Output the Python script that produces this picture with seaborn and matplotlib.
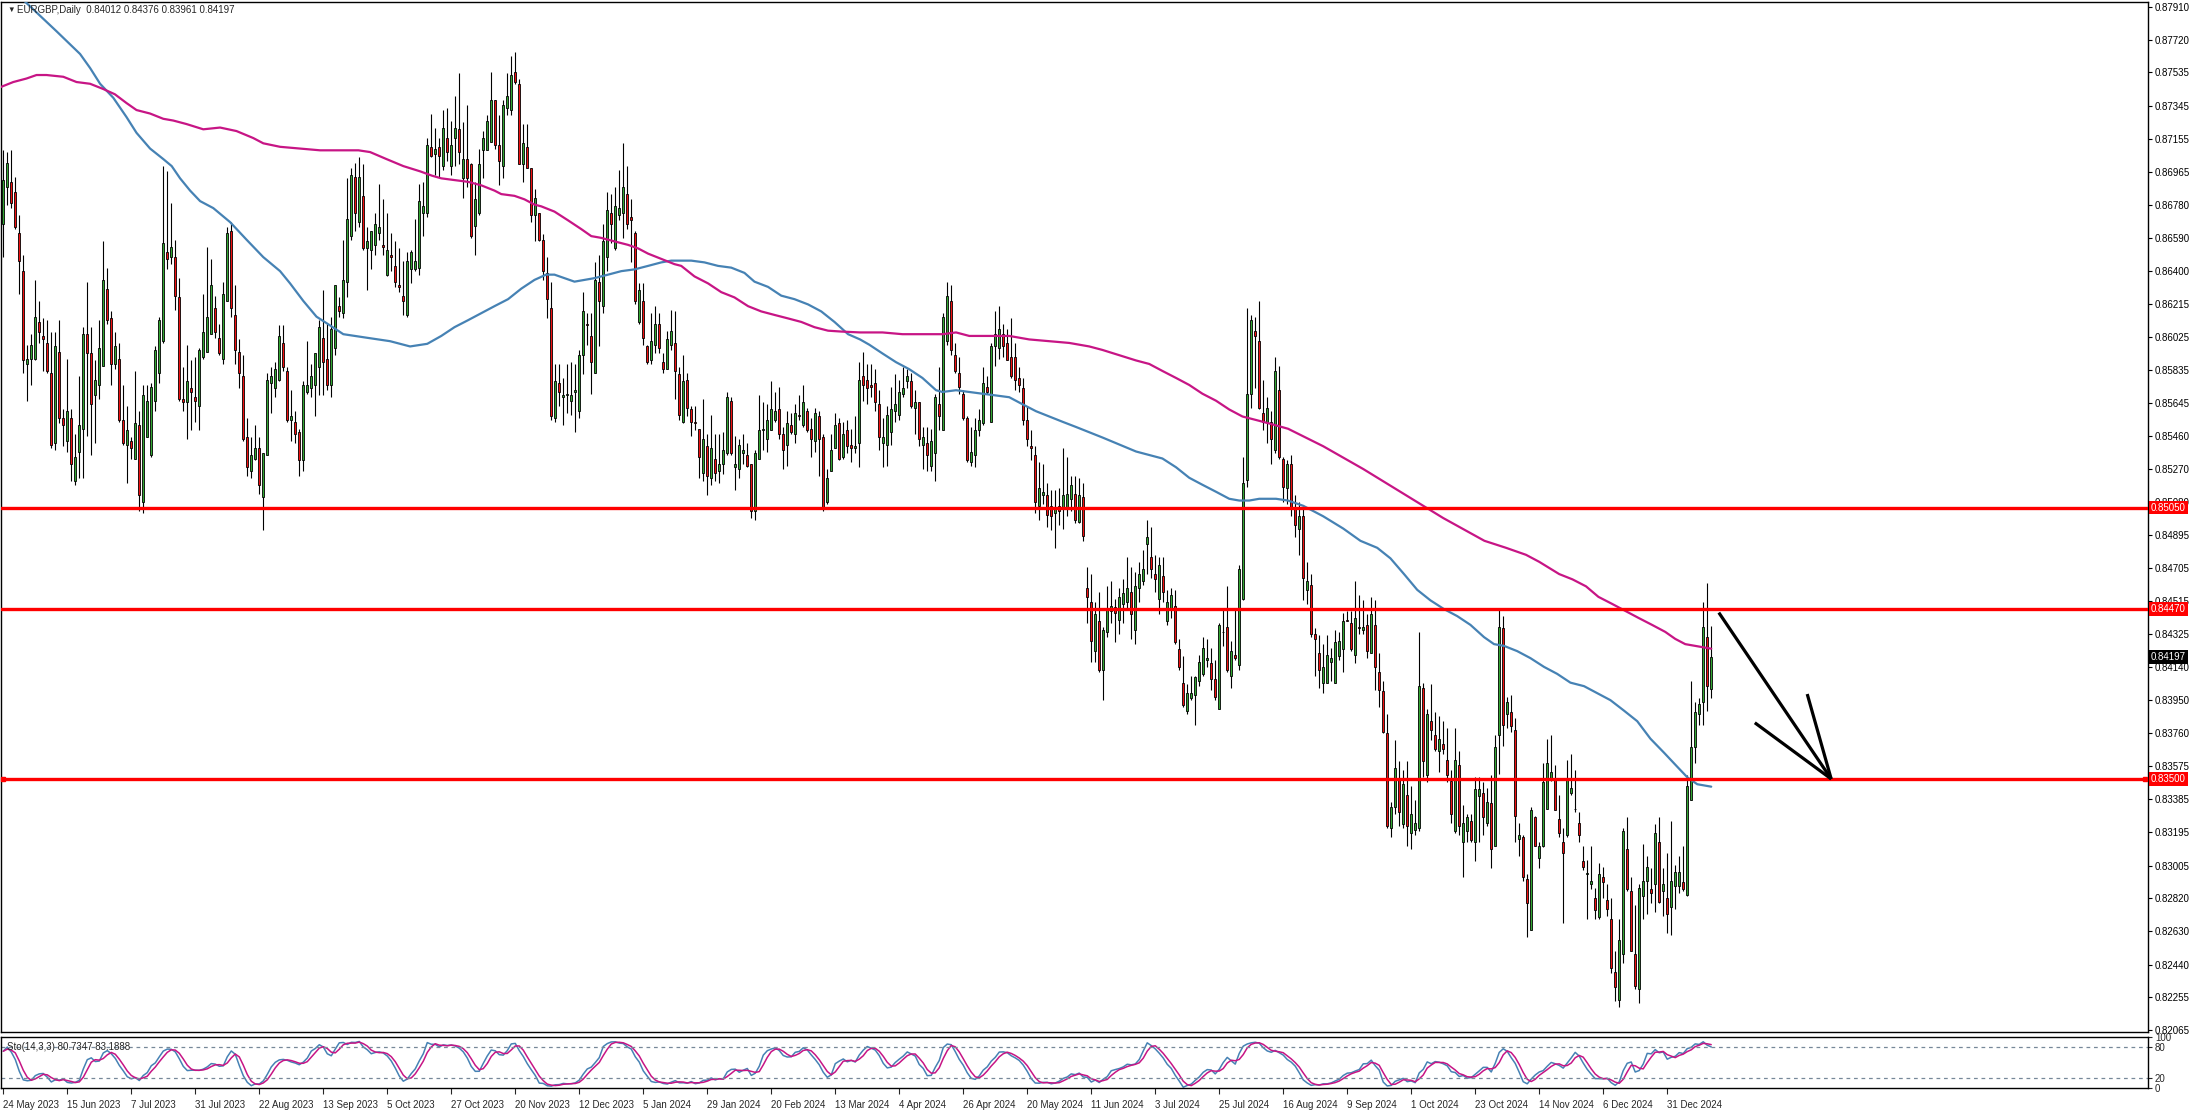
import numpy as np
import pandas as pd
import matplotlib
matplotlib.use("Agg")
import matplotlib.pyplot as plt
import matplotlib.transforms as mtrans
import seaborn as sns

# --- EURGBP daily candles, prices in pips (price * 10000) ---
opens = [8667, 8688, 8691, 8685, 8662, 8640, 8587, 8590, 8590, 8611, 8603, 8599, 8582, 8542, 8594, 8556, 8543, 8556, 8520, 8537,
         8550, 8604, 8593, 8569, 8575, 8586, 8630, 8613, 8587, 8590, 8555, 8541, 8543, 8533, 8552, 8508, 8545, 8535, 8566, 8582,
         8600, 8651, 8648, 8648, 8625, 8567, 8565, 8573, 8568, 8563, 8591, 8594, 8604, 8619, 8602, 8590, 8623, 8663, 8615, 8594,
         8580, 8545, 8526, 8533, 8539, 8511, 8535, 8576, 8573, 8578, 8599, 8583, 8555, 8554, 8548, 8532, 8571, 8573, 8575, 8585,
         8602, 8590, 8575, 8596, 8620, 8616, 8634, 8660, 8694, 8668, 8683, 8653, 8652, 8655, 8662, 8655, 8638, 8649, 8643, 8632,
         8626, 8615, 8641, 8641, 8642, 8673, 8673, 8711, 8707, 8711, 8700, 8716, 8700, 8716, 8721, 8693, 8704, 8701, 8666, 8673,
         8709, 8709, 8714, 8738, 8712, 8700, 8733, 8732, 8754, 8747, 8701, 8711, 8699, 8672, 8673, 8658, 8639, 8619, 8556, 8576,
         8568, 8569, 8566, 8571, 8560, 8592, 8610, 8603, 8582, 8634, 8620, 8648, 8673, 8653, 8672, 8673, 8684, 8671, 8662, 8611,
         8623, 8597, 8589, 8598, 8610, 8588, 8584, 8598, 8599, 8581, 8554, 8578, 8561, 8554, 8550, 8525, 8540, 8522, 8533, 8526,
         8530, 8536, 8566, 8528, 8527, 8536, 8535, 8530, 8503, 8533, 8549, 8544, 8549, 8555, 8561, 8547, 8541, 8552, 8547, 8558,
         8552, 8560, 8550, 8543, 8557, 8545, 8508, 8526, 8539, 8553, 8534, 8549, 8541, 8539, 8542, 8580, 8578, 8575, 8576, 8564,
         8542, 8541, 8548, 8560, 8558, 8570, 8577, 8577, 8562, 8565, 8541, 8542, 8529, 8536, 8564, 8549, 8600, 8623, 8592, 8582,
         8570, 8556, 8531, 8535, 8549, 8553, 8574, 8554, 8597, 8596, 8604, 8599, 8591, 8591, 8579, 8573, 8555, 8540, 8535, 8506,
         8512, 8512, 8506, 8502, 8506, 8505, 8505, 8510, 8513, 8497, 8511, 8459, 8451, 8423, 8440, 8412, 8434, 8446, 8448, 8441,
         8450, 8451, 8457, 8435, 8459, 8463, 8484, 8477, 8467, 8453, 8466, 8440, 8447, 8449, 8424, 8405, 8389, 8396, 8398, 8406,
         8410, 8418, 8416, 8407, 8390, 8434, 8437, 8409, 8421, 8415, 8453, 8521, 8570, 8606, 8600, 8559, 8554, 8554, 8538, 8572,
         8533, 8516, 8530, 8505, 8493, 8500, 8458, 8461, 8433, 8422, 8405, 8405, 8417, 8405, 8420, 8424, 8441, 8439, 8421, 8437,
         8435, 8438, 8422, 8438, 8411, 8400, 8376, 8322, 8334, 8350, 8324, 8341, 8319, 8321, 8322, 8402, 8352, 8383, 8375, 8366,
         8370, 8361, 8349, 8320, 8358, 8314, 8320, 8326, 8314, 8340, 8342, 8325, 8336, 8312, 8375, 8436, 8387, 8388, 8378, 8316,
         8317, 8293, 8264, 8328, 8305, 8312, 8333, 8350, 8350, 8327, 8314, 8318, 8342, 8333, 8325, 8303, 8296, 8290, 8282, 8271,
         8294, 8281, 8270, 8240, 8224, 8250, 8310, 8286, 8250, 8230, 8283, 8292, 8287, 8290, 8314, 8286, 8282, 8277, 8289, 8289,
         8291, 8284, 8338, 8368, 8387, 8394, 8431, 8401.2]
highs = [8709, 8708, 8709, 8694, 8672, 8649, 8598, 8604, 8635, 8623, 8613, 8612, 8605, 8605, 8612, 8561, 8590, 8561, 8547, 8580,
         8608, 8634, 8608, 8589, 8612, 8657, 8642, 8617, 8605, 8599, 8575, 8563, 8545, 8583, 8560, 8575, 8575, 8576, 8597, 8614,
         8700, 8697, 8679, 8658, 8636, 8585, 8598, 8589, 8591, 8596, 8627, 8654, 8647, 8626, 8610, 8634, 8665, 8668, 8632, 8601,
         8592, 8556, 8545, 8552, 8545, 8536, 8582, 8585, 8588, 8609, 8609, 8585, 8572, 8560, 8550, 8577, 8600, 8587, 8593, 8612,
         8629, 8610, 8614, 8632, 8625, 8658, 8693, 8699, 8702, 8705, 8701, 8665, 8663, 8673, 8690, 8681, 8673, 8662, 8657, 8653,
         8646, 8651, 8652, 8670, 8690, 8691, 8716, 8730, 8722, 8716, 8732, 8733, 8726, 8740, 8753, 8725, 8735, 8702, 8691, 8710,
         8720, 8729, 8754, 8738, 8729, 8738, 8753, 8763, 8765, 8750, 8724, 8724, 8699, 8687, 8673, 8661, 8648, 8634, 8587, 8587,
         8579, 8587, 8588, 8587, 8595, 8628, 8616, 8616, 8645, 8649, 8667, 8685, 8684, 8688, 8698, 8713, 8700, 8681, 8663, 8633,
         8633, 8598, 8616, 8620, 8616, 8593, 8606, 8618, 8617, 8585, 8592, 8582, 8563, 8563, 8550, 8567, 8547, 8558, 8547, 8547,
         8548, 8571, 8568, 8546, 8544, 8547, 8542, 8530, 8538, 8569, 8565, 8564, 8577, 8571, 8574, 8551, 8560, 8559, 8564, 8569,
         8575, 8562, 8556, 8562, 8560, 8547, 8527, 8547, 8559, 8556, 8554, 8555, 8550, 8557, 8588, 8594, 8587, 8587, 8584, 8572,
         8556, 8563, 8574, 8581, 8578, 8585, 8584, 8582, 8572, 8565, 8551, 8551, 8550, 8570, 8585, 8616, 8634, 8632, 8599, 8591,
         8572, 8557, 8551, 8556, 8561, 8585, 8580, 8599, 8617, 8620, 8610, 8607, 8613, 8599, 8585, 8579, 8563, 8549, 8540, 8531,
         8530, 8519, 8515, 8515, 8516, 8539, 8534, 8523, 8523, 8522, 8519, 8471, 8467, 8451, 8457, 8437, 8460, 8463, 8453, 8459,
         8464, 8477, 8471, 8468, 8474, 8481, 8498, 8494, 8478, 8477, 8477, 8458, 8459, 8458, 8430, 8420, 8404, 8409, 8409, 8421,
         8431, 8430, 8425, 8418, 8439, 8447, 8460, 8429, 8447, 8472, 8534, 8619, 8615, 8614, 8623, 8578, 8568, 8560, 8591, 8586,
         8534, 8532, 8535, 8512, 8508, 8505, 8474, 8467, 8436, 8432, 8427, 8432, 8425, 8435, 8434, 8445, 8446, 8446, 8463, 8455,
         8452, 8444, 8454, 8452, 8422, 8406, 8387, 8337, 8372, 8360, 8355, 8360, 8346, 8338, 8434, 8405, 8390, 8404, 8388, 8386,
         8383, 8379, 8355, 8379, 8366, 8335, 8330, 8330, 8351, 8351, 8348, 8345, 8352, 8375, 8447, 8443, 8397, 8398, 8385, 8325,
         8318, 8296, 8334, 8329, 8314, 8359, 8373, 8375, 8358, 8341, 8322, 8361, 8364, 8355, 8331, 8312, 8304, 8312, 8288, 8302,
         8300, 8290, 8282, 8252, 8270, 8322, 8328, 8294, 8278, 8290, 8313, 8306, 8299, 8324, 8328, 8299, 8308, 8326, 8301, 8306,
         8312, 8352, 8406, 8394, 8396, 8451, 8462, 8437.6]
lows = [8648, 8678, 8676, 8664, 8627, 8582, 8566, 8575, 8589, 8599, 8583, 8582, 8539, 8538, 8553, 8540, 8537, 8520, 8518, 8522,
        8522, 8546, 8535, 8542, 8567, 8586, 8610, 8575, 8584, 8554, 8541, 8519, 8533, 8533, 8503, 8502, 8545, 8534, 8560, 8576,
        8599, 8641, 8644, 8618, 8566, 8560, 8544, 8549, 8554, 8549, 8590, 8594, 8604, 8602, 8592, 8587, 8623, 8614, 8587, 8573,
        8543, 8523, 8522, 8532, 8513, 8492, 8535, 8559, 8568, 8577, 8583, 8554, 8543, 8542, 8523, 8526, 8570, 8568, 8557, 8569,
        8569, 8572, 8568, 8592, 8614, 8613, 8625, 8658, 8663, 8665, 8652, 8629, 8641, 8649, 8658, 8649, 8637, 8640, 8631, 8628,
        8615, 8614, 8633, 8640, 8638, 8660, 8671, 8705, 8695, 8694, 8698, 8703, 8695, 8700, 8701, 8682, 8688, 8659, 8649, 8672,
        8693, 8709, 8714, 8710, 8689, 8693, 8729, 8729, 8747, 8701, 8691, 8699, 8668, 8657, 8657, 8635, 8613, 8555, 8554, 8563,
        8552, 8559, 8558, 8548, 8556, 8581, 8598, 8570, 8582, 8597, 8616, 8640, 8656, 8652, 8669, 8659, 8664, 8645, 8621, 8610,
        8598, 8587, 8587, 8593, 8593, 8582, 8584, 8595, 8567, 8555, 8553, 8557, 8546, 8549, 8522, 8520, 8512, 8518, 8520, 8519,
        8524, 8535, 8535, 8515, 8522, 8530, 8528, 8499, 8498, 8533, 8538, 8537, 8549, 8554, 8544, 8527, 8529, 8547, 8542, 8555,
        8551, 8548, 8534, 8537, 8523, 8503, 8507, 8526, 8539, 8532, 8533, 8536, 8531, 8536, 8528, 8566, 8564, 8568, 8560, 8538,
        8528, 8529, 8541, 8554, 8555, 8568, 8573, 8562, 8547, 8540, 8527, 8526, 8526, 8520, 8549, 8549, 8598, 8592, 8582, 8570,
        8555, 8531, 8529, 8528, 8546, 8552, 8570, 8554, 8586, 8590, 8591, 8589, 8579, 8572, 8571, 8552, 8540, 8532, 8502, 8498,
        8507, 8494, 8492, 8482, 8495, 8493, 8500, 8503, 8496, 8496, 8486, 8439, 8417, 8417, 8411, 8395, 8431, 8439, 8428, 8433,
        8439, 8447, 8430, 8427, 8451, 8461, 8467, 8465, 8457, 8444, 8451, 8438, 8442, 8427, 8412, 8391, 8387, 8395, 8381, 8403,
        8409, 8414, 8401, 8395, 8390, 8426, 8411, 8402, 8418, 8412, 8452, 8517, 8562, 8573, 8561, 8549, 8542, 8530, 8536, 8533,
        8508, 8507, 8500, 8488, 8478, 8452, 8450, 8431, 8409, 8402, 8399, 8405, 8406, 8405, 8418, 8411, 8440, 8423, 8416, 8433,
        8433, 8419, 8422, 8401, 8391, 8376, 8322, 8317, 8330, 8323, 8322, 8312, 8310, 8318, 8320, 8351, 8348, 8372, 8366, 8354,
        8364, 8348, 8325, 8319, 8318, 8294, 8314, 8314, 8303, 8314, 8318, 8323, 8299, 8312, 8353, 8369, 8379, 8377, 8314, 8306,
        8292, 8260, 8264, 8312, 8299, 8311, 8333, 8349, 8332, 8317, 8268, 8317, 8341, 8331, 8314, 8298, 8270, 8287, 8270, 8270,
        8282, 8272, 8239, 8223, 8220, 8245, 8286, 8252, 8230, 8222, 8270, 8273, 8279, 8274, 8279, 8272, 8262, 8261, 8276, 8285,
        8286, 8283, 8338, 8359, 8381, 8381, 8389, 8396.1]
closes = [8692, 8702, 8679, 8665, 8646, 8589, 8590, 8598, 8614, 8605, 8601, 8583, 8541, 8597, 8556, 8552, 8560, 8530, 8534, 8552,
          8604, 8593, 8564, 8578, 8596, 8635, 8612, 8587, 8597, 8555, 8542, 8549, 8539, 8553, 8512, 8569, 8566, 8574, 8595, 8612,
          8656, 8647, 8654, 8626, 8567, 8565, 8577, 8571, 8566, 8595, 8605, 8614, 8632, 8605, 8593, 8627, 8662, 8619, 8595, 8582,
          8544, 8528, 8535, 8539, 8518, 8536, 8578, 8580, 8584, 8603, 8585, 8555, 8557, 8547, 8532, 8575, 8575, 8580, 8593, 8608,
          8588, 8575, 8607, 8632, 8617, 8635, 8670, 8695, 8673, 8694, 8653, 8657, 8663, 8667, 8665, 8654, 8652, 8648, 8634, 8631,
          8623, 8646, 8651, 8646, 8680, 8677, 8712, 8706, 8710, 8706, 8722, 8708, 8712, 8722, 8708, 8704, 8693, 8660, 8681, 8701,
          8716, 8726, 8738, 8712, 8703, 8735, 8740, 8752, 8748, 8701, 8713, 8699, 8672, 8682, 8658, 8640, 8624, 8557, 8577, 8571,
          8569, 8570, 8569, 8572, 8592, 8617, 8609, 8588, 8635, 8623, 8657, 8675, 8667, 8677, 8676, 8688, 8667, 8669, 8623, 8629,
          8602, 8588, 8600, 8610, 8596, 8584, 8601, 8606, 8583, 8558, 8577, 8562, 8554, 8553, 8534, 8544, 8523, 8539, 8525, 8530,
          8538, 8568, 8536, 8530, 8541, 8538, 8529, 8503, 8536, 8549, 8550, 8555, 8561, 8560, 8547, 8538, 8553, 8548, 8559, 8557,
          8565, 8549, 8544, 8559, 8544, 8505, 8522, 8538, 8552, 8533, 8547, 8540, 8539, 8540, 8578, 8575, 8573, 8574, 8565, 8545,
          8545, 8558, 8561, 8564, 8571, 8573, 8580, 8563, 8565, 8544, 8545, 8535, 8543, 8568, 8557, 8614, 8626, 8595, 8583, 8574,
          8556, 8532, 8537, 8549, 8555, 8576, 8571, 8597, 8604, 8607, 8597, 8589, 8580, 8578, 8575, 8555, 8544, 8539, 8508, 8516,
          8514, 8501, 8500, 8505, 8503, 8512, 8513, 8518, 8498, 8512, 8489, 8454, 8429, 8444, 8412, 8435, 8447, 8449, 8445, 8454,
          8456, 8459, 8444, 8460, 8467, 8470, 8488, 8470, 8464, 8472, 8457, 8451, 8455, 8428, 8414, 8392, 8399, 8399, 8408, 8417,
          8425, 8419, 8407, 8397, 8438, 8434, 8412, 8423, 8419, 8470, 8519, 8570, 8612, 8603, 8562, 8554, 8562, 8544, 8583, 8534,
          8517, 8530, 8505, 8495, 8500, 8465, 8463, 8433, 8430, 8412, 8414, 8421, 8419, 8428, 8429, 8440, 8440, 8424, 8442, 8436,
          8437, 8423, 8444, 8414, 8401, 8377, 8323, 8334, 8356, 8331, 8347, 8323, 8330, 8325, 8403, 8360, 8387, 8378, 8367, 8373,
          8367, 8352, 8330, 8361, 8323, 8325, 8328, 8315, 8344, 8344, 8328, 8337, 8310, 8368, 8437, 8381, 8394, 8380, 8329, 8318,
          8294, 8279, 8332, 8312, 8312, 8348, 8359, 8354, 8332, 8319, 8308, 8350, 8345, 8333, 8318, 8300, 8296, 8292, 8275, 8296,
          8291, 8276, 8242, 8231, 8258, 8320, 8287, 8252, 8232, 8288, 8292, 8300, 8285, 8319, 8280, 8290, 8273, 8292, 8297, 8297,
          8287, 8346, 8368, 8388, 8393, 8437, 8403, 8419.7]

# moving averages, sampled along the drawn lines: bar index and value in pips
blue_ma_idx = [4, 13.3, 19.2, 21.7, 24.2, 27.5, 30.8, 33.3, 36.7, 40, 42.1, 44.2, 46.7, 49.2, 52.5, 56.7, 60.8, 65, 69.2, 71.7,
               75, 78.3, 81.7, 85, 90.8, 96.7, 101.7, 106, 109.5, 112.8, 116.2, 119.5, 122.8, 126.2, 129.5, 132.8, 135.7, 137.8,
               140.3, 142.8, 145.3, 147.8, 151.2, 154.5, 157.8, 161.2, 164.5, 167, 172, 175.3, 178.7, 182, 185.3, 187.8, 191.2,
               194.5, 197.8, 201.2, 204.5, 207.8, 211.2, 214.2, 216.5, 219.8, 223.2, 226.5, 229.8, 233.2, 234.8, 238.2, 241.5,
               244.8, 248.2, 251.5, 254.8, 258.2, 261.5, 264.8, 268.2, 271.5, 274.8, 279, 283.2, 286.5, 289.8, 293.2, 296.5,
               299.8, 303.2, 306.5, 309, 311.5, 314, 318.2, 321.2, 325, 330, 335, 339.3, 343.5, 346.8, 350.2, 353.5, 356.8,
               360.2, 363.5, 366.8, 370.2, 372.7, 375.2, 378.5, 381.8, 385.2, 388.5, 391.8, 395.2, 398.5, 401.8, 405.2, 408.5,
               411.8, 415.2, 418.5, 421, 423.5, 427]
blue_ma_val = [8797, 8777, 8764, 8756, 8747, 8739, 8728, 8719, 8710, 8704, 8700, 8693, 8686, 8680, 8676, 8668, 8658, 8648, 8640, 8633,
               8623, 8614, 8609, 8604, 8602, 8600, 8597, 8598.5, 8603, 8608, 8612, 8616, 8620, 8624, 8630, 8635, 8638, 8638,
               8636, 8634, 8635, 8636, 8638, 8640, 8641, 8643, 8645, 8646, 8646, 8645, 8643, 8642, 8639, 8634, 8631,
               8626, 8624, 8621, 8617, 8611, 8604, 8601, 8598, 8593, 8588, 8584, 8579, 8572, 8571, 8572, 8571,
               8570, 8569, 8568, 8564, 8560, 8557, 8554, 8551, 8548, 8545, 8541, 8537, 8535, 8533, 8528, 8522,
               8518, 8514, 8510, 8509, 8509, 8510, 8510, 8509, 8506, 8500, 8493, 8486, 8482, 8476, 8467, 8458, 8452,
               8447, 8443, 8438, 8431, 8427, 8426, 8423, 8419, 8414, 8410, 8405, 8403, 8399, 8395, 8389, 8383,
               8373, 8365, 8357, 8351, 8347, 8345.6]
pink_ma_idx = [-0.8, 2.5, 5.8, 8.3, 10.8, 15, 18.3, 21.7, 25, 27.9, 30.8, 33.3, 36.7, 40, 42.5, 45.8, 50, 54.2, 58.3, 62.5,
               65, 69.2, 74.2, 79.2, 84.2, 88.8, 91.7, 95.8, 100, 104.2, 107.2, 109.5, 112.8, 116.2, 119.5, 122.8, 124.5,
               127.8, 130.3, 132.8, 134.5, 137.8, 141.2, 144.5, 147, 149.5, 152.8, 156.2, 158.7, 161.2, 164.5, 167.8, 169.5,
               172.8, 176.2, 179.5, 182.8, 186.2, 189.5, 192.8, 196.2, 199.5, 202.8, 206.2, 209.5, 214.2, 219.8, 224.8,
               229.8, 234.8, 238.2, 241.5, 246.5, 251.5, 256.5, 261.5, 266.5, 271.5, 274.8, 279, 283.2, 286.5, 289.8,
               293.2, 296.5, 299.8, 303.2, 306.5, 309.8, 313.2, 316.5, 321.2, 330, 340, 350, 360, 370.3, 375.7, 380.7,
               384, 389, 392.3, 395.7, 398.8, 402.2, 405.5, 408.8, 412.2, 415.5, 418, 420.5, 427]
pink_ma_val = [8745, 8748, 8750, 8752, 8752, 8751, 8748, 8747, 8744, 8741, 8736, 8732, 8730, 8727, 8726, 8724, 8721, 8722, 8720, 8716,
               8713, 8711, 8710, 8709, 8709, 8709, 8708, 8704, 8700, 8697, 8694.5, 8693, 8692, 8691, 8689, 8686, 8684,
               8683, 8681, 8678, 8677, 8674, 8669, 8664, 8660, 8659, 8657, 8655, 8653, 8650, 8647, 8644, 8643,
               8637, 8633, 8628, 8625, 8620, 8617, 8615, 8613, 8611, 8608, 8606, 8605.5, 8605, 8605, 8604,
               8604, 8604, 8605, 8603, 8603, 8603, 8601, 8600, 8599, 8597, 8595, 8592, 8589, 8587, 8583,
               8579, 8575, 8570, 8566, 8561, 8557, 8555, 8553, 8550, 8540, 8527, 8513, 8499, 8486, 8482, 8478,
               8474, 8467, 8464, 8460, 8454, 8450, 8446, 8442, 8438, 8434, 8430, 8427, 8424.4]

date_labels = ["24 May 2023", "15 Jun 2023", "7 Jul 2023", "31 Jul 2023", "22 Aug 2023", "13 Sep 2023", "5 Oct 2023",
               "27 Oct 2023", "20 Nov 2023", "12 Dec 2023", "5 Jan 2024", "29 Jan 2024", "20 Feb 2024", "13 Mar 2024",
               "4 Apr 2024", "26 Apr 2024", "20 May 2024", "11 Jun 2024", "3 Jul 2024", "25 Jul 2024", "16 Aug 2024",
               "9 Sep 2024", "1 Oct 2024", "23 Oct 2024", "14 Nov 2024", "6 Dec 2024", "31 Dec 2024"]
bars_per_label = 16

price_ticks = [0.87910, 0.87720, 0.87535, 0.87345, 0.87155, 0.86965, 0.86780, 0.86590, 0.86400, 0.86215, 0.86025,
               0.85835, 0.85645, 0.85460, 0.85270, 0.85080, 0.84895, 0.84705, 0.84515, 0.84325, 0.84140, 0.83950,
               0.83760, 0.83575, 0.83385, 0.83195, 0.83005, 0.82820, 0.82630, 0.82440, 0.82255, 0.82065]
levels = [0.85050, 0.84470, 0.83500]
last_price = 0.84197
arrow_tails = [(428.9, 0.84450), (437.9, 0.83821), (451.0, 0.83985)]
arrow_tip = (457.0, 0.83500)

header = "EURGBP,Daily  0.84012 0.84376 0.83961 0.84197"
sto_label = "Sto(14,3,3) 80.7347 83.1888"

GREEN = "#32a632"
RED = "#f01010"
STEEL = "#4682b4"
VIOLET = "#c71585"

sns.set_style("white")
plt.rcParams["font.family"] = ["Liberation Sans", "DejaVu Sans"]

W, H = 2194, 1112
fig = plt.figure(figsize=(W / 100, H / 100), dpi=100)


def box(x0, y0, x1, y1):
    return [x0 / W, 1 - y1 / H, (x1 - x0) / W, (y1 - y0) / H]


ax = fig.add_axes(box(1, 2, 2148, 1032))
axs = fig.add_axes(box(1, 1037, 2148, 1088))

o = np.array(opens) / 1e4
h = np.array(highs) / 1e4
l = np.array(lows) / 1e4
c = np.array(closes) / 1e4
n = len(c)
idx = np.arange(n)
up = c >= o
lo = np.minimum(o, c)
ht = np.maximum(np.abs(c - o), 0.000012)

# candles
ax.vlines(idx, l, h, color="black", lw=0.8, zorder=2)
ax.bar(idx[up], ht[up], bottom=lo[up], width=0.58, color=GREEN, edgecolor="black", linewidth=0.6, zorder=3)
ax.bar(idx[~up], ht[~up], bottom=lo[~up], width=0.58, color=RED, edgecolor="black", linewidth=0.6, zorder=3)

# moving averages
sns.lineplot(x=blue_ma_idx, y=np.array(blue_ma_val) / 1e4, ax=ax, color=STEEL, lw=1.6, zorder=4)
sns.lineplot(x=pink_ma_idx, y=np.array(pink_ma_val) / 1e4, ax=ax, color=VIOLET, lw=1.6, zorder=4)

xmin, xmax = -0.575, 536.2
ax.set_xlim(xmin, xmax)
ax.set_ylim(0.82055, 0.87937)

# support / resistance lines
for lv in levels:
    ax.axhline(lv, color="#ff0000", lw=2.4, zorder=5)
ax.plot([xmin + 0.6, xmax - 0.8], [levels[2]] * 2, ls="none", marker="s", ms=3.5, color="#ff0000", zorder=6, clip_on=False)

# drawn arrow
for tx, ty in arrow_tails:
    ax.plot([tx, arrow_tip[0]], [ty, arrow_tip[1]], color="black", lw=2.3, solid_capstyle="butt", zorder=6)

# right price axis
ax.yaxis.tick_right()
ax.set_yticks(price_ticks)
ax.set_yticklabels([f"{p:.5f}" for p in price_ticks])
ax.tick_params(axis="y", right=True, length=3, width=0.8, pad=2, labelsize=7, colors="black")
ax.set_xticks([])
for s in ax.spines.values():
    s.set_color("black")
    s.set_linewidth(1.0)

trans = mtrans.blended_transform_factory(ax.transAxes, ax.transData)
for lv in levels:
    ax.text(1.0 + 3 / 2147, lv, f"{lv:.5f}", transform=trans, ha="left", va="center", fontsize=7, color="white",
            zorder=10, clip_on=False, bbox=dict(boxstyle="square,pad=0.18", fc="#ff0000", ec="none"))
ax.text(1.0 + 3 / 2147, last_price, f"{last_price:.5f}", transform=trans, ha="left", va="center", fontsize=7,
        color="white", zorder=10, clip_on=False, bbox=dict(boxstyle="square,pad=0.18", fc="black", ec="none"))

# stochastic (14,3,3) from the candles
df = pd.DataFrame({"h": h, "l": l, "c": c})
ll = df["l"].rolling(14, min_periods=1).min()
hh = df["h"].rolling(14, min_periods=1).max()
k = 100 * (df["c"] - ll).rolling(3, min_periods=1).sum() / (hh - ll).rolling(3, min_periods=1).sum()
d = k.rolling(3, min_periods=1).mean()
sns.lineplot(x=idx, y=k.values, ax=axs, color=STEEL, lw=1.1)
sns.lineplot(x=idx, y=d.values, ax=axs, color=VIOLET, lw=1.1)
for lv in (20, 80):
    axs.axhline(lv, color="#778899", lw=0.9, ls=(0, (3, 3)))
axs.set_xlim(xmin, xmax)
axs.set_ylim(0, 100)
axs.yaxis.tick_right()
axs.set_yticks([0, 20, 80, 100])
axs.set_yticklabels(["0", "20", "80", "100"])
axs.tick_params(axis="y", right=True, length=3, width=0.8, pad=2, labelsize=7)
axs.set_ylabel("")
for s in axs.spines.values():
    s.set_color("black")
    s.set_linewidth(1.0)

# date axis
tick_pos = [i * bars_per_label for i in range(len(date_labels))]
axs.set_xticks(tick_pos)
axs.set_xticklabels(date_labels)
axs.tick_params(axis="x", bottom=True, length=4, width=0.8, pad=5, labelsize=7)
for lab in axs.get_xticklabels():
    lab.set_ha("left")

axs.text(6 / 2147, 0.80, sto_label, transform=axs.transAxes, fontsize=7, va="center", ha="left")
fig.text(7 / W, 1 - 10 / H, "\u25bc", fontsize=5.5, va="center", ha="left")
fig.text(17 / W, 1 - 10 / H, header, fontsize=7, va="center", ha="left")

fig.savefig("out.png", dpi=100)
